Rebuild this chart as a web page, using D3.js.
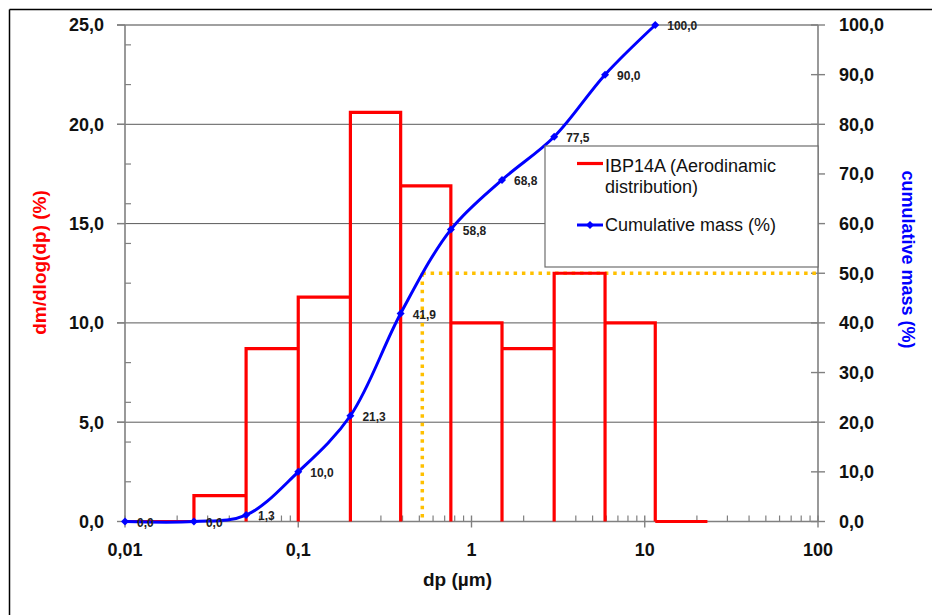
<!DOCTYPE html>
<html>
<head>
<meta charset="utf-8">
<script src="https://cdn.jsdelivr.net/npm/d3@7"></script>
<style>
  html, body { margin: 0; padding: 0; background: #fff; }
  svg { display: block; font-family: "Liberation Sans", Arial, sans-serif; }
</style>
</head>
<body>
<svg id="chart" width="932" height="615"></svg>
<script>
// Size bins (µm) and mass fraction per bin (%)
const binEdges = [0.01, 0.025, 0.05, 0.1, 0.2, 0.39, 0.76, 1.5, 3.0, 5.9, 11.5, 23];
const binMass = [0.0, 1.3, 8.7, 11.3, 20.6, 16.9, 10.0, 8.7, 12.5, 10.0, 0.0];

// Cumulative mass (%) at the lower bin edges
const cumSizes = [0.01, 0.025, 0.05, 0.1, 0.2, 0.39, 0.76, 1.5, 3.0, 5.9, 11.5];
const cumMass = [0.0, 0.0, 1.3, 10.0, 21.3, 41.9, 58.8, 68.8, 77.5, 90.0, 100.0];

// Median aerodynamic diameter (50 % cumulative mass)
const d50 = 0.52;
const d50Level = 50;

// Axis ticks
const xTicks = [0.01, 0.1, 1, 10, 100];
const xTickLabels = ["0,01", "0,1", "1", "10", "100"];
const yLeftTicks = [0, 5, 10, 15, 20, 25];
const yLeftMinor = [2, 4, 6, 8, 12, 14, 16, 18, 22, 24];
const yRightTicks = [0, 10, 20, 30, 40, 50, 60, 70, 80, 90, 100];

const RED = "#ff0000", BLUE = "#0000ff", GOLD = "#ffc000", AXIS = "#808080", GRID = "#5a5a5a";
const fmt1 = v => d3.format(".1f")(v).replace(".", ",");

const svg = d3.select("#chart");

// Outer frame
svg.append("line").attr("x1", 9.5).attr("x2", 932).attr("y1", 9.5).attr("y2", 9.5)
  .attr("stroke", "#000").attr("stroke-width", 1.5);
svg.append("line").attr("x1", 9.5).attr("x2", 9.5).attr("y1", 9.5).attr("y2", 615)
  .attr("stroke", "#000").attr("stroke-width", 1.5);

const x = d3.scaleLog().domain([0.01, 100]).range([125, 818]);
const yL = d3.scaleLinear().domain([0, 25]).range([521.5, 25]);
const yR = d3.scaleLinear().domain([0, 100]).range([521.5, 25]);

// Horizontal gridlines at left-axis major ticks
svg.append("g").selectAll("line").data(yLeftTicks.filter(d => d > 0)).join("line")
  .attr("x1", 117).attr("x2", 818)
  .attr("y1", d => yL(d)).attr("y2", d => yL(d))
  .attr("stroke", d => d === 25 ? AXIS : GRID).attr("stroke-width", d => d === 25 ? 1.6 : 1);

// Left axis
const gL = svg.append("g");
gL.append("line").attr("x1", 125).attr("x2", 125).attr("y1", yL(0)).attr("y2", yL(25))
  .attr("stroke", AXIS).attr("stroke-width", 1.6);
gL.selectAll(".maj").data(yLeftTicks).join("line").attr("class", "maj")
  .attr("x1", 117).attr("x2", 125).attr("y1", d => yL(d)).attr("y2", d => yL(d))
  .attr("stroke", AXIS).attr("stroke-width", 1.4);
gL.selectAll(".min").data(yLeftMinor).join("line").attr("class", "min")
  .attr("x1", 125).attr("x2", 131).attr("y1", d => yL(d)).attr("y2", d => yL(d))
  .attr("stroke", AXIS).attr("stroke-width", 1.2);
gL.selectAll("text").data(yLeftTicks).join("text")
  .attr("x", 104).attr("y", d => yL(d)).attr("dy", "0.36em")
  .attr("text-anchor", "end").attr("font-size", 18).attr("font-weight", "bold")
  .attr("fill", "#111").text(d => fmt1(d));

// Right axis
const gR = svg.append("g");
gR.append("line").attr("x1", 818).attr("x2", 818).attr("y1", yR(0)).attr("y2", yR(100))
  .attr("stroke", AXIS).attr("stroke-width", 1.6);
gR.selectAll("line.t").data(yRightTicks).join("line").attr("class", "t")
  .attr("x1", 811).attr("x2", 825).attr("y1", d => yR(d)).attr("y2", d => yR(d))
  .attr("stroke", AXIS).attr("stroke-width", 1.4);
gR.selectAll("text").data(yRightTicks).join("text")
  .attr("x", 839).attr("y", d => yR(d)).attr("dy", "0.36em")
  .attr("text-anchor", "start").attr("font-size", 18).attr("font-weight", "bold")
  .attr("fill", "#111").text(d => fmt1(d));

// Bottom (log) axis
const gX = svg.append("g");
gX.append("line").attr("x1", x(0.01)).attr("x2", x(100)).attr("y1", yL(0)).attr("y2", yL(0))
  .attr("stroke", AXIS).attr("stroke-width", 1.6);
const xMinor = [];
[0.01, 0.1, 1, 10].forEach(dec => { for (let k = 2; k <= 9; k++) xMinor.push(dec * k); });
gX.selectAll(".min").data(xMinor).join("line").attr("class", "min")
  .attr("x1", d => x(d)).attr("x2", d => x(d)).attr("y1", yL(0) - 6).attr("y2", yL(0))
  .attr("stroke", AXIS).attr("stroke-width", 1.2);
gX.selectAll(".maj").data(xTicks).join("line").attr("class", "maj")
  .attr("x1", d => x(d)).attr("x2", d => x(d)).attr("y1", yL(0) - 6).attr("y2", yL(0) + 6)
  .attr("stroke", AXIS).attr("stroke-width", 1.4);
gX.selectAll("text").data(xTicks).join("text")
  .attr("x", d => x(d)).attr("y", 556)
  .attr("text-anchor", "middle").attr("font-size", 18).attr("font-weight", "bold")
  .attr("fill", "#111").text((d, i) => xTickLabels[i]);

// Axis titles
svg.append("text").attr("transform", "translate(46,262.5) rotate(-90)")
  .attr("text-anchor", "middle").attr("font-size", 19).attr("font-weight", "bold")
  .attr("fill", RED).text("dm/dlog(dp) (%)");
svg.append("text").attr("transform", "translate(902,259.5) rotate(90)")
  .attr("text-anchor", "middle").attr("font-size", 18).attr("font-weight", "bold")
  .attr("fill", BLUE).text("cumulative mass (%)");
svg.append("text").attr("x", 457.5).attr("y", 586)
  .attr("text-anchor", "middle").attr("font-size", 19).attr("font-weight", "bold")
  .attr("fill", "#111").text("dp (µm)");

// d50 guide lines
const dotted = svg.append("g").attr("stroke", GOLD).attr("stroke-width", 3.5)
  .attr("stroke-dasharray", "3.5,4.8").attr("fill", "none");
dotted.append("line").attr("x1", x(d50)).attr("x2", x(d50))
  .attr("y1", yR(d50Level)).attr("y2", yR(0));
dotted.append("line").attr("x1", x(d50)).attr("x2", x(100))
  .attr("y1", yR(d50Level)).attr("y2", yR(d50Level));

// Histogram outline: each bin drawn as left side, top and right side
const histPath = d3.path();
binMass.forEach((v, i) => {
  const x0 = x(binEdges[i]), x1 = x(binEdges[i + 1]);
  histPath.moveTo(x0, yL(0));
  histPath.lineTo(x0, yL(v));
  histPath.lineTo(x1, yL(v));
  histPath.lineTo(x1, yL(0));
});
svg.append("path").attr("d", histPath.toString())
  .attr("fill", "none").attr("stroke", RED).attr("stroke-width", 3.2)
  .attr("stroke-linejoin", "miter");

// Cumulative curve (smoothed)
const cumPts = cumSizes.map((s, i) => [s, cumMass[i]]);
const line = d3.line().x(d => x(d[0])).y(d => yR(d[1])).curve(d3.curveCatmullRom.alpha(0.5));
svg.append("path").attr("d", line(cumPts))
  .attr("fill", "none").attr("stroke", BLUE).attr("stroke-width", 3);

const diamond = "M0,-4L4,0L0,4L-4,0Z";
svg.append("g").selectAll("path").data(cumPts).join("path")
  .attr("transform", d => `translate(${x(d[0])},${yR(d[1])})`)
  .attr("d", diamond).attr("fill", BLUE);

svg.append("g").selectAll("text").data(cumPts).join("text")
  .attr("x", d => x(d[0]) + 12).attr("y", d => yR(d[1]) + 1).attr("dy", "0.36em")
  .attr("font-size", 12).attr("font-weight", "bold").attr("fill", "#222")
  .text(d => fmt1(d[1]));

// Legend
const lg = svg.append("g");
lg.append("rect").attr("x", 545).attr("y", 146).attr("width", 273).attr("height", 121)
  .attr("fill", "#fff").attr("stroke", "#6e6e6e").attr("stroke-width", 1.2);
lg.append("line").attr("x1", 577).attr("x2", 603).attr("y1", 163.5).attr("y2", 163.5)
  .attr("stroke", RED).attr("stroke-width", 3.2);
lg.append("text").attr("x", 605).attr("y", 171.5).attr("font-size", 18).attr("fill", "#111")
  .text("IBP14A (Aerodinamic");
lg.append("text").attr("x", 605).attr("y", 193).attr("font-size", 18).attr("fill", "#111")
  .text("distribution)");
lg.append("line").attr("x1", 577).attr("x2", 603).attr("y1", 225).attr("y2", 225)
  .attr("stroke", BLUE).attr("stroke-width", 3);
lg.append("path").attr("transform", "translate(590,225)").attr("d", diamond).attr("fill", BLUE);
lg.append("text").attr("x", 605).attr("y", 231).attr("font-size", 18).attr("fill", "#111")
  .text("Cumulative mass (%)");
</script>
</body>
</html>
